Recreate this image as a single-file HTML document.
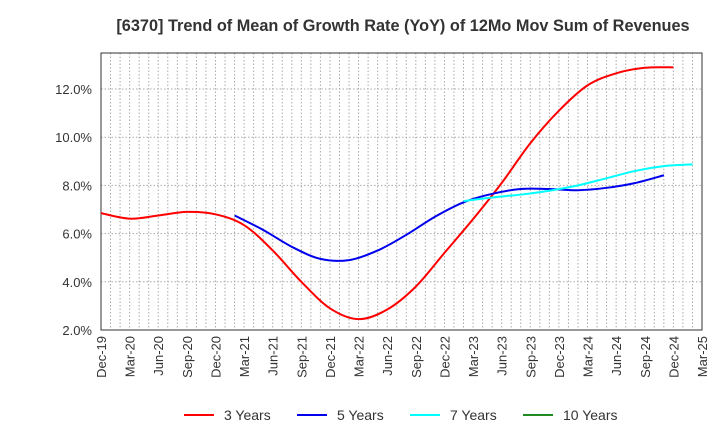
<!DOCTYPE html>
<html><head><meta charset="utf-8"><style>
body{margin:0;background:#fff;font-family:"Liberation Sans",sans-serif}
</style></head><body>
<svg id="c" width="720" height="440" xmlns="http://www.w3.org/2000/svg">
<text x="403" y="31" text-anchor="middle" font-size="16.3" font-weight="bold" fill="#333">[6370]  Trend of Mean of Growth Rate (YoY) of 12Mo Mov Sum of Revenues</text>
<g id="grid"></g><g id="axes"></g><g id="series"></g><g id="legend"></g>
</svg>
<script>
const xLabels=["Dec-19","Mar-20","Jun-20","Sep-20","Dec-20","Mar-21","Jun-21","Sep-21","Dec-21","Mar-22","Jun-22","Sep-22","Dec-22","Mar-23","Jun-23","Sep-23","Dec-23","Mar-24","Jun-24","Sep-24","Dec-24","Mar-25"];
const yTicks=[2,4,6,8,10,12];
const s3Start=0;
const s3=[6.85,6.62,6.75,6.9,6.8,6.35,5.3,4.0,2.9,2.45,2.85,3.8,5.2,6.6,8.1,9.75,11.1,12.15,12.65,12.88,12.9];
const s5Start=4.67;
const s5=[6.75,6.15,5.45,4.95,4.9,5.3,5.95,6.7,7.3,7.65,7.85,7.85,7.8,7.9,8.1,8.42];
const s7Start=12.67;
const s7=[7.35,7.5,7.62,7.78,8.0,8.3,8.6,8.8,8.87];
const s10=[];
const L=101,R=702,T=53,B=330;
const X=q=>L+q*3*(R-L)/63;
const NS="http://www.w3.org/2000/svg";
function mk(tag,attrs,parent,text){const e=document.createElementNS(NS,tag);for(const k in attrs)e.setAttribute(k,attrs[k]);if(text!=null)e.textContent=text;document.getElementById(parent).appendChild(e);return e;}
const yScale=v=>B-(v-2)*48.2/2;
for(let m=1;m<63;m++){const x=L+m*(R-L)/63;const e=mk('line',{x1:x,x2:x,y1:T,y2:B,stroke:'#aaa','stroke-dasharray':'1.5,2','stroke-width':1},'grid');

}
yTicks.forEach(v=>{const y=yScale(v);const g=mk('line',{x1:L,x2:R,y1:y,y2:y,stroke:'#aaa','stroke-dasharray':'1.5,2'},'grid');


const t=mk('text',{x:L-9,y:y+5,'text-anchor':'end','font-size':13,fill:'#333'},'axes',v.toFixed(1)+'%');

});
const fr=mk('rect',{x:L,y:T,width:R-L,height:B-T,fill:'none',stroke:'#333','stroke-width':1},'axes');


xLabels.forEach((l,i)=>{const x=X(i);const t=mk('text',{x:0,y:0,'text-anchor':'end','font-size':13,fill:'#333',transform:`translate(${x+5},${B+6}) rotate(-90)`},'axes',l);

});
function path(arr,start){const p=arr.map((v,i)=>[X(start+i),yScale(v)]);let d='M'+p[0][0]+','+p[0][1];
for(let i=0;i<p.length-1;i++){const p0=p[Math.max(0,i-1)],p1=p[i],p2=p[i+1],p3=p[Math.min(p.length-1,i+2)];
d+=` C${p1[0]+(p2[0]-p0[0])/6},${p1[1]+(p2[1]-p0[1])/6} ${p2[0]-(p3[0]-p1[0])/6},${p2[1]-(p3[1]-p1[1])/6} ${p2[0]},${p2[1]}`;}return d;}
[[s3,s3Start,'#ff0000','line-3-years'],[s5,s5Start,'#0000ee','line-5-years'],[s7,s7Start,'#00ffff','line-7-years']].forEach(([a,s,c,n])=>{
const e=mk('path',{d:path(a,s),fill:'none',stroke:c,'stroke-width':2},'series');

});
[['3 Years','#ff0000',184],['5 Years','#0000ee',297],['7 Years','#00ffff',410],['10 Years','#228b22',523]].forEach(([n,c,x])=>{
const g=mk('g',{},'legend');


const l=document.createElementNS(NS,'line');l.setAttribute('x1',x);l.setAttribute('x2',x+30);l.setAttribute('y1',415);l.setAttribute('y2',415);l.setAttribute('stroke',c);l.setAttribute('stroke-width',2);g.appendChild(l);
const t=document.createElementNS(NS,'text');t.setAttribute('x',x+40);t.setAttribute('y',420);t.setAttribute('font-size',14);t.setAttribute('fill','#333');t.textContent=n;g.appendChild(t);});
</script>
</body></html>
